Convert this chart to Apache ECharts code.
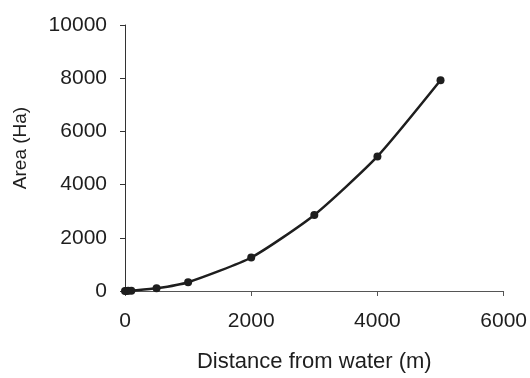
<!DOCTYPE html>
<html>
<head>
<meta charset="utf-8">
<script src="https://cdn.jsdelivr.net/npm/echarts@6/dist/echarts.min.js"></script>
<style>
  html, body { margin: 0; padding: 0; background: #fff; }
  #chart { width: 530px; height: 378px; }
</style>
</head>
<body>
<div id="chart"></div>
<script>
// Area within a given distance of open water
const distances = [0, 25, 50, 100, 500, 1000, 2000, 3000, 4000, 5000];
const areas = [0, 2, 5, 12, 100, 330, 1260, 2860, 5060, 7920];

const xTicks = { min: 0, max: 6000, interval: 2000 };
const yTicks = { min: 0, max: 10000, interval: 2000 };

const ink = '#1e1e1e';
const font = 'Liberation Sans, Arial, sans-serif';

const chart = echarts.init(document.getElementById('chart'));
chart.setOption({
  animation: false,
  backgroundColor: '#fff',
  grid: { left: 125, right: 25, top: 25, bottom: 85 },
  xAxis: {
    type: 'value',
    min: xTicks.min, max: xTicks.max, interval: xTicks.interval,
    name: 'Distance from water (m)',
    nameLocation: 'middle',
    nameGap: 60,
    nameTextStyle: { color: ink, fontSize: 22, fontFamily: font },
    axisLine: { show: true, lineStyle: { color: '#555', width: 1 } },
    axisTick: { show: true, length: 5, lineStyle: { color: '#555' } },
    axisLabel: { color: ink, fontSize: 21, fontFamily: font, margin: 20, formatter: v => String(v) },
    splitLine: { show: false }
  },
  yAxis: {
    type: 'value',
    min: yTicks.min, max: yTicks.max, interval: yTicks.interval,
    name: 'Area (Ha)',
    nameLocation: 'middle',
    nameGap: 95,
    nameTextStyle: { color: ink, fontSize: 19, fontFamily: font, padding: [0, 0, 0, 20] },
    axisLine: { show: true, lineStyle: { color: '#333', width: 1 } },
    axisTick: { show: true, length: 5, lineStyle: { color: '#333' } },
    axisLabel: { color: ink, fontSize: 21, fontFamily: font, margin: 18, formatter: v => String(v) },
    splitLine: { show: false }
  },
  series: [{
    type: 'line',
    data: distances.map((d, i) => [d, areas[i]]),
    smooth: 0.2,
    symbol: 'circle',
    symbolSize: 8,
    lineStyle: { color: ink, width: 2.5 },
    itemStyle: { color: ink }
  }]
});
</script>
</body>
</html>
